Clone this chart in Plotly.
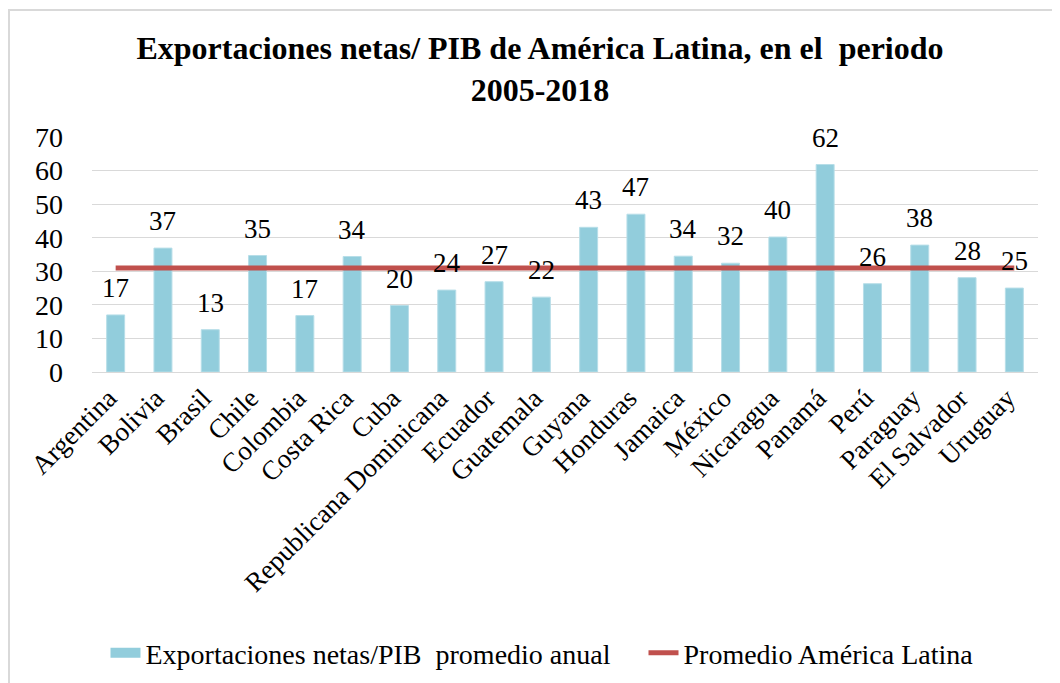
import plotly.graph_objects as go

categories = ["Argentina", "Bolivia", "Brasil", "Chile", "Colombia", "Costa Rica", "Cuba",
              "Republicana Dominicana", "Ecuador", "Guatemala", "Guyana", "Honduras", "Jamaica",
              "México", "Nicaragua", "Panamá", "Perú", "Paraguay", "El Salvador", "Uruguay"]
export_ratio = [17.0, 36.9, 12.6, 34.7, 16.8, 34.4, 19.8, 24.4, 26.9, 22.3, 43.1, 47.0, 34.5,
                32.4, 40.2, 61.8, 26.3, 37.8, 28.1, 25.0]
latam_average = [31.0, 31.0, 31.0, 31.0, 31.0, 31.0, 31.0, 31.0, 31.0, 31.0, 31.0, 31.0, 31.0,
                 31.0, 31.0, 31.0, 31.0, 31.0, 31.0, 31.0]
y_ticks = [0, 10, 20, 30, 40, 50, 60, 70]

title_text = "Exportaciones netas/ PIB de América Latina, en el&nbsp; periodo<br>2005-2018"
bar_name = "Exportaciones netas/PIB&nbsp; promedio anual"
line_name = "Promedio América Latina"

FONT = "Liberation Serif"
BAR_COLOR = "#92CDDC"
LINE_COLOR = "#C0504D"

# page body has an 8px margin; the figure is sized so that it fits the window
OFF = 8
W, H = 1060 - OFF, 683 - OFF
L, R, T, B = 92 - OFF, 22, 137 - OFF, 311
pw, ph = W - L - R, H - T - B

fig = go.Figure()
fig.add_trace(go.Bar(
    x=categories, y=export_ratio, name=bar_name, showlegend=False,
    marker=dict(color=BAR_COLOR, line=dict(color="#B7DEE8", width=1)),
))
# legend swatch for the bars (wide patch like the original legend key)
fig.add_trace(go.Scatter(
    x=[None], y=[None], name=bar_name + "&nbsp;&nbsp;&nbsp;&nbsp;", mode="lines",
    line=dict(color=BAR_COLOR, width=15), hoverinfo="skip",
))
fig.add_trace(go.Scatter(
    x=categories, y=latam_average, name=line_name, mode="lines",
    line=dict(color=LINE_COLOR, width=5),
))

for c, v in zip(categories, export_ratio):
    fig.add_annotation(x=c, y=v, text=f"{v:.0f}", showarrow=False, yanchor="bottom",
                       yshift=10, font=dict(family=FONT, size=27, color="#000000"))

def px(x):
    return (x - OFF - L) / pw

def py(y):
    return (H + OFF - B - y) / ph

fig.add_shape(type="rect", xref="paper", yref="paper",
              x0=px(9), y0=py(10), x1=px(1075), y1=py(700),
              line=dict(color="#D9D9D9", width=2), fillcolor="rgba(0,0,0,0)", layer="above")

fig.update_layout(
    width=W, height=H,
    margin=dict(l=L, r=R, t=T, b=B, pad=0),
    paper_bgcolor="white", plot_bgcolor="white",
    font=dict(family=FONT, size=28, color="#000000"),
    title=dict(text=title_text, x=(540 - OFF) / W, xanchor="center",
               y=1 - (59 - OFF) / H, yanchor="middle",
               font=dict(family=FONT, size=32, color="#000000", weight="bold")),
    bargap=0.62,
    showlegend=True,
    legend=dict(orientation="h", x=(542 - OFF) / W, xanchor="center", xref="container",
                y=1 - (653 - OFF) / H, yanchor="middle", yref="container",
                font=dict(family=FONT, size=28), traceorder="normal",
                bgcolor="rgba(0,0,0,0)"),
    xaxis=dict(tickangle=-45, tickfont=dict(family=FONT, size=27), showgrid=False,
               showline=False, ticks="", range=[-0.5, len(categories) - 0.5],
               ticklabelshift=-7, ticklabelstandoff=4),
    yaxis=dict(range=[0, 70], tickvals=y_ticks, showgrid=True, gridcolor="#D9D9D9",
               gridwidth=1.3, zeroline=True, zerolinecolor="#D9D9D9", zerolinewidth=1.3,
               showline=False, ticks="", ticklabelstandoff=28,
               tickfont=dict(family=FONT, size=28)),
)

fig.write_html("out.html")
